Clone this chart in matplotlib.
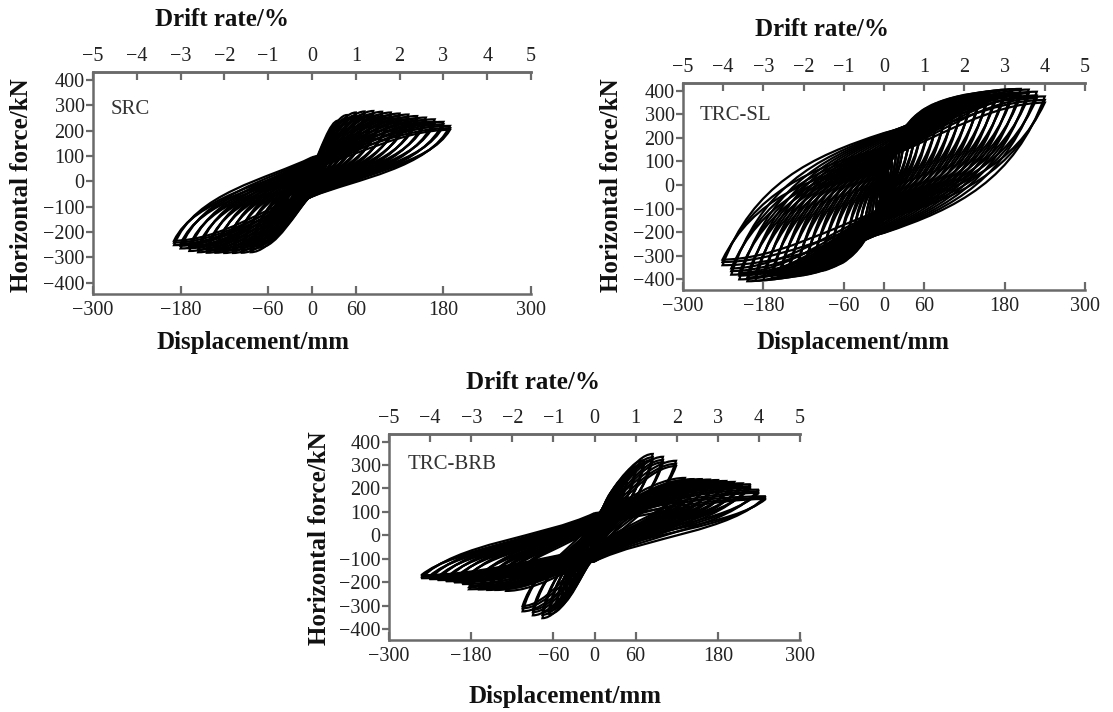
import matplotlib
matplotlib.use("Agg")
from matplotlib import pyplot as plt
from matplotlib.path import Path
from matplotlib.patches import PathPatch

plt.rcParams['font.family'] = ['Liberation Serif', 'DejaVu Serif']

# cycle peaks: displacement (mm), force (kN),
# and force where each branch crosses zero displacement (pinching)
src_dp = [6, 12, 18, 24, 30, 36, 48, 60, 72, 84, 96, 108, 120, 132, 144, 156, 168, 180, 189]
src_fp = [60, 105, 140, 170, 205, 240, 262, 272, 276, 278, 275, 272, 268, 264, 258, 252, 245, 235, 219]
src_dn = [-6, -12, -18, -24, -30, -36, -48, -60, -72, -84, -96, -108, -120, -132, -144, -156, -168, -180, -189]
src_fn = [-45, -80, -100, -118, -135, -150, -185, -225, -262, -280, -282, -283, -283, -282, -282, -280, -275, -265, -252]
src_pp = [8, 18, 28, 36, 44, 50, 56, 62, 66, 70, 74, 77, 80, 83, 86, 88, 90, 92, 95]
src_pn = [8, 15, 22, 28, 33, 37, 41, 44, 47, 50, 52, 54, 55, 56, 57, 58, 59, 60, 60]

sl_dp = [6, 12, 18, 24, 30, 40, 50, 60, 72, 84, 96, 108, 120, 132, 144, 156, 168, 180, 192, 204, 216, 228, 240]
sl_fp = [50, 95, 135, 170, 200, 245, 285, 310, 332, 348, 360, 370, 378, 385, 390, 395, 399, 403, 406, 407, 404, 395, 375]
sl_dn = [-6, -12, -18, -24, -30, -40, -50, -60, -72, -84, -96, -108, -120, -132, -144, -156, -168, -180, -192, -204, -216, -228, -241]
sl_fn = [-50, -95, -135, -170, -200, -250, -290, -315, -338, -352, -364, -372, -380, -386, -390, -395, -399, -403, -406, -408, -400, -380, -340]
sl_pp = [10, 22, 35, 48, 60, 78, 95, 110, 125, 138, 150, 160, 170, 178, 186, 193, 199, 204, 208, 212, 215, 218, 220]
sl_pn = [10, 22, 35, 46, 58, 75, 90, 104, 118, 130, 141, 151, 160, 167, 174, 180, 185, 190, 194, 197, 200, 202, 203]

brb_dp = [6, 12, 18, 24, 30, 36, 42, 48, 60, 72, 85, 100, 119, 132, 144, 156, 168, 180, 192, 204, 216, 228, 240, 250]
brb_fp = [45, 95, 135, 165, 195, 215, 235, 255, 290, 320, 347, 335, 318, 245, 240, 240, 238, 236, 232, 228, 222, 218, 195, 167]
brb_dn = [-6, -12, -18, -24, -30, -36, -42, -48, -56, -66, -76, -90, -105, -129, -144, -156, -168, -183, -193, -205, -217, -229, -241, -253]
brb_fn = [-40, -85, -125, -160, -190, -215, -245, -275, -308, -335, -352, -340, -323, -236, -232, -232, -230, -229, -207, -200, -195, -190, -186, -182]
brb_pp = [6, 14, 22, 30, 36, 42, 48, 52, 58, 63, 68, 72, 75, 78, 80, 82, 84, 86, 87, 88, 89, 90, 92, 95]
brb_pn = [8, 18, 28, 38, 46, 54, 62, 68, 76, 84, 90, 95, 100, 103, 105, 106, 107, 108, 108, 109, 109, 110, 110, 110]

# repeated cycles at one level: peak force and pinch force relative to the first
cycle_peak = [1.0, 0.96, 0.93]
cycle_pinch = [1.0, 0.72, 0.5]

disp_ticks = [-300, -180, -60, 0, 60, 180, 300]
drift_ticks = [-5, -4, -3, -2, -1, 0, 1, 2, 3, 4, 5]
force_ticks = [-400, -300, -200, -100, 0, 100, 200, 300, 400]

# bezier control fractions (loading la, lb, lc / unloading ua, ub, uc, ue)
LOAD = (0.33, 0.38, 0.68)
UNLOAD = {'SRC': (0.85, 0.4, 0.32, 0.25),
          'TRC-SL': (0.81, 0.39, 0.46, 0.18),
          'TRC-BRB': (0.8, 0.45, 0.3, 0.38)}


def loop(dp, fp, dn, fn, pp, pn, un):
    la, lb, lc = LOAD
    ua, ub, uc, ue = un
    A = (0, pp)
    D = (0, -pn)
    verts = [A,
             (la * dp, pp + lb * (fp - pp)), (lc * dp, fp), (dp, fp),
             (ua * dp, -pn + ub * (fp + pn)), (uc * dp, -pn + ue * (fp + pn)), D,
             (la * dn, -pn + lb * (fn + pn)), (lc * dn, fn), (dn, fn),
             (ua * dn, pp + ub * (fn - pp)), (uc * dn, pp + ue * (fn - pp)), A]
    codes = [Path.MOVETO] + [Path.CURVE4] * 12
    return Path(verts, codes)


def panel(fig, rect, name, dp, fp, dn, fn, pp, pn, lab):
    ax = fig.add_axes(rect)
    for i in range(len(dp)):
        for rf, rp in zip(cycle_peak, cycle_pinch):
            p = loop(dp[i], fp[i] * rf, dn[i], fn[i] * rf, pp[i] * rp, pn[i] * rp, UNLOAD[name])
            ax.add_patch(PathPatch(p, fill=False, ec='black', lw=1.6))
    ax.set_xlim(-300, 300)
    ax.set_ylim(-445, 432)
    ax.set_xticks(disp_ticks)
    ax.set_yticks(force_ticks)
    for s in ['left', 'bottom', 'top']:
        ax.spines[s].set_color('#6a6a6a')
        ax.spines[s].set_linewidth(1.8)
    ax.spines['right'].set_visible(False)
    ax.tick_params(axis='x', direction='in', length=6, width=1.6, color='#6a6a6a',
                   labelsize=14.5, labelcolor='#222222', pad=5)
    ax.tick_params(axis='y', direction='out', length=5, width=1.6, color='#6a6a6a',
                   labelsize=14.5, labelcolor='#222222', pad=1)
    sec = ax.secondary_xaxis('top', functions=(lambda d: d / 60, lambda r: r * 60))
    sec.set_xticks(drift_ticks)
    sec.spines['top'].set_color('#6a6a6a')
    sec.spines['top'].set_linewidth(1.8)
    sec.tick_params(direction='in', length=6, width=1.6, color='#6a6a6a',
                    labelsize=14.5, labelcolor='#222222', pad=4)
    ax.text(lab[0], lab[1], name, transform=ax.transAxes, fontsize=15,
            color='#333333', va='center', ha='left')
    return ax


W, H = 1113, 712
fig = plt.figure(figsize=(W / 100, H / 100), dpi=100)


def px_rect(l, t, r, b):
    return [l / W, 1 - b / H, (r - l) / W, (b - t) / H]


def ftext(x, y, s, rot=0):
    fig.text(x / W, 1 - y / H, s, fontsize=18, fontweight='bold', rotation=rot,
             ha='center', va='center', color='#111111')


panel(fig, px_rect(93, 72, 531, 294), 'SRC', src_dp, src_fp, src_dn, src_fn, src_pp, src_pn, (0.04, 0.83))
panel(fig, px_rect(683, 83, 1085, 290), 'TRC-SL', sl_dp, sl_fp, sl_dn, sl_fn, sl_pp, sl_pn, (0.042, 0.845))
panel(fig, px_rect(389, 434, 800, 640), 'TRC-BRB', brb_dp, brb_fp, brb_dn, brb_fn, brb_pp, brb_pn, (0.046, 0.85))

ftext(222, 20, 'Drift rate/%')
ftext(253, 343, 'Displacement/mm')
ftext(22, 185, 'Horizontal force/kN', 90)
ftext(822, 30, 'Drift rate/%')
ftext(853, 343, 'Displacement/mm')
ftext(612, 185, 'Horizontal force/kN', 90)
ftext(533, 383, 'Drift rate/%')
ftext(565, 697, 'Displacement/mm')
ftext(320, 538, 'Horizontal force/kN', 90)

fig.savefig('out.png', dpi=100)
